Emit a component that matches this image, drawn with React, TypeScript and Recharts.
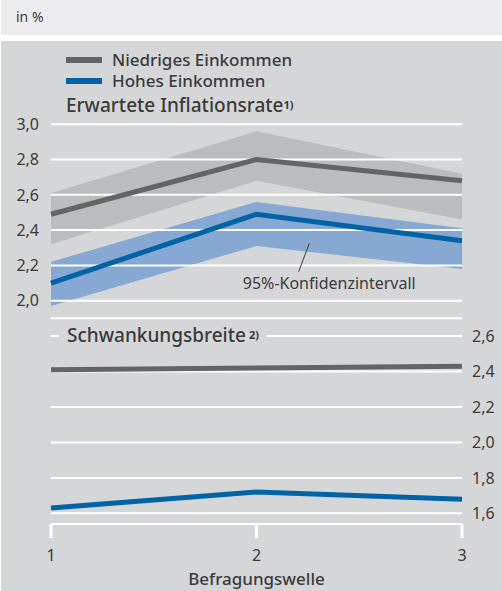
import { Area, ComposedChart, Line, XAxis, YAxis, CartesianGrid, ReferenceLine, ReferenceDot } from 'recharts';

// Befragungswellen
const waves = [1, 2, 3];

// Erwartete Inflationsrate (in %)
const lowIncomeMean = [2.49, 2.8, 2.68];
const lowIncomeLower = [2.32, 2.68, 2.46];
const lowIncomeUpper = [2.61, 2.96, 2.72];
const highIncomeMean = [2.1, 2.49, 2.34];
const highIncomeLower = [1.97, 2.31, 2.18];
const highIncomeUpper = [2.22, 2.56, 2.41];

// Schwankungsbreite
const lowIncomeSpread = [2.41, 2.42, 2.43];
const highIncomeSpread = [1.63, 1.72, 1.68];

const inflationTicks = [2.0, 2.2, 2.4, 2.6, 2.8, 3.0];
const spreadTicks = [1.6, 1.8, 2.0, 2.2, 2.4, 2.6];
const waveTicks = [1, 2, 3];

const COLORS = {
  header: '#ececee',
  panel: '#d5d6d8',
  text: '#3a3a3a',
  low: '#636466',
  high: '#0063a5',
  lowBand: '#bbbcbf',
  highBand: '#87a8d2',
  grid: '#ffffff',
};

const FONT = '"Noto Sans", "Open Sans", sans-serif';

const topData = waves.map((w, i) => ({
  wave: w,
  low: lowIncomeMean[i],
  high: highIncomeMean[i],
  lowBand: [lowIncomeLower[i], lowIncomeUpper[i]],
  highBand: [highIncomeLower[i], highIncomeUpper[i]],
}));

const bottomData = waves.map((w, i) => ({
  wave: w,
  low: lowIncomeSpread[i],
  high: highIncomeSpread[i],
}));

const fmt = (v: number) => v.toFixed(1).replace('.', ',');

const topMargin = { top: 124.3, right: 40, bottom: 11.7, left: 0 };
const tickStyle = { fontSize: 16, fill: COLORS.text, fontFamily: FONT };
const supStyle = { fontSize: 11, fontWeight: 700, verticalAlign: 'top', position: 'relative' as const, top: -1 };

export default function App() {
  return (
    <div style={{ position: 'absolute', left: 0, top: 0, width: 502, height: 591, background: '#fff', fontFamily: FONT, color: COLORS.text }}>
      <div style={{ position: 'absolute', left: 1, top: 0, width: 501, height: 35, background: COLORS.header }} />
      <div style={{ position: 'absolute', left: 16, top: 10.3, fontSize: 14, lineHeight: '14px' }}>in %</div>
      <div style={{ position: 'absolute', left: 1, top: 41, width: 501, height: 550, background: COLORS.panel }} />

      {/* Legende */}
      <div style={{ position: 'absolute', left: 66, top: 57, width: 36, height: 6, background: COLORS.low }} />
      <div style={{ position: 'absolute', left: 112, top: 50.9, fontSize: 17, lineHeight: '17px', fontWeight: 500 }}>Niedriges Einkommen</div>
      <div style={{ position: 'absolute', left: 66, top: 78, width: 36, height: 6, background: COLORS.high }} />
      <div style={{ position: 'absolute', left: 112, top: 72.2, fontSize: 17, lineHeight: '17px', fontWeight: 500 }}>Hohes Einkommen</div>
      <div style={{ position: 'absolute', left: 66, top: 95.8, fontSize: 19, lineHeight: '19px', fontWeight: 500, whiteSpace: 'nowrap' }}>
        Erwartete Inflationsrate<sup style={supStyle}>1)</sup>
      </div>

      {/* Konfidenzbänder (unter dem Gitter) */}
      <div style={{ position: 'absolute', left: 0, top: 0 }}>
        <ComposedChart width={502} height={330} data={topData} margin={{ ...topMargin, left: 51 }}>
          <XAxis dataKey="wave" type="number" domain={[1, 3]} hide />
          <YAxis type="number" domain={[1.9, 3.0]} hide />
          <Area type="linear" dataKey="lowBand" stroke="none" fill={COLORS.lowBand} fillOpacity={1} isAnimationActive={false} />
          <Area type="linear" dataKey="highBand" stroke="none" fill={COLORS.highBand} fillOpacity={1} isAnimationActive={false} />
        </ComposedChart>
      </div>

      {/* Gitter + Linien */}
      <div style={{ position: 'absolute', left: 0, top: 0 }}>
        <ComposedChart width={502} height={330} data={topData} margin={topMargin}>
          <CartesianGrid vertical={false} stroke={COLORS.grid} strokeWidth={2} />
          <XAxis dataKey="wave" type="number" domain={[1, 3]} ticks={waveTicks} hide />
          <YAxis
            type="number"
            domain={[1.9, 3.0]}
            ticks={inflationTicks}
            width={51}
            axisLine={false}
            tickLine={false}
            tickMargin={6}
            tickFormatter={fmt}
            tick={tickStyle}
          />
          <Line type="linear" dataKey="low" stroke={COLORS.low} strokeWidth={5} dot={false} isAnimationActive={false} />
          <Line type="linear" dataKey="high" stroke={COLORS.high} strokeWidth={5} dot={false} isAnimationActive={false} />
          <ReferenceLine segment={[{ x: 2.257, y: 2.325 }, { x: 2.205, y: 2.164 }]} stroke={COLORS.text} strokeWidth={1} />
          <ReferenceDot
            x={2.354}
            y={2.1}
            r={0}
            stroke="none"
            label={{ value: '95%-Konfidenzintervall', position: 'center', fontSize: 16, fill: COLORS.text, fontFamily: FONT }}
          />
        </ComposedChart>
      </div>

      {/* Schwankungsbreite */}
      <div style={{ position: 'absolute', left: 0, top: 320 }}>
        <ComposedChart width={502} height={271} data={bottomData} margin={{ top: 16, right: 0, bottom: 0, left: 51 }}>
          <CartesianGrid vertical={false} stroke={COLORS.grid} strokeWidth={2} />
          <XAxis
            dataKey="wave"
            type="number"
            domain={[1, 3]}
            ticks={waveTicks}
            height={67}
            axisLine={false}
            tickSize={14}
            tickMargin={12}
            tickLine={{ stroke: COLORS.grid, strokeWidth: 3 }}
            tick={tickStyle}
            label={{ value: 'Befragungswelle', position: 'insideBottom', offset: 6, fontSize: 17, fontWeight: 500, fill: COLORS.text, fontFamily: FONT }}
          />
          <YAxis
            orientation="right"
            type="number"
            domain={[1.54, 2.6]}
            ticks={spreadTicks}
            width={40}
            axisLine={false}
            tickLine={false}
            tickMargin={4}
            tickFormatter={fmt}
            tick={tickStyle}
          />
          <Line type="linear" dataKey="low" stroke={COLORS.low} strokeWidth={5} dot={false} isAnimationActive={false} />
          <Line type="linear" dataKey="high" stroke={COLORS.high} strokeWidth={5} dot={false} isAnimationActive={false} />
        </ComposedChart>
      </div>

      <div style={{ position: 'absolute', left: 59, top: 326.4, padding: '0 8px', background: COLORS.panel, fontSize: 19, lineHeight: '19px', fontWeight: 500, whiteSpace: 'nowrap' }}>
        Schwankungsbreite<sup style={{ ...supStyle, marginLeft: 3 }}>2)</sup>
      </div>
    </div>
  );
}
